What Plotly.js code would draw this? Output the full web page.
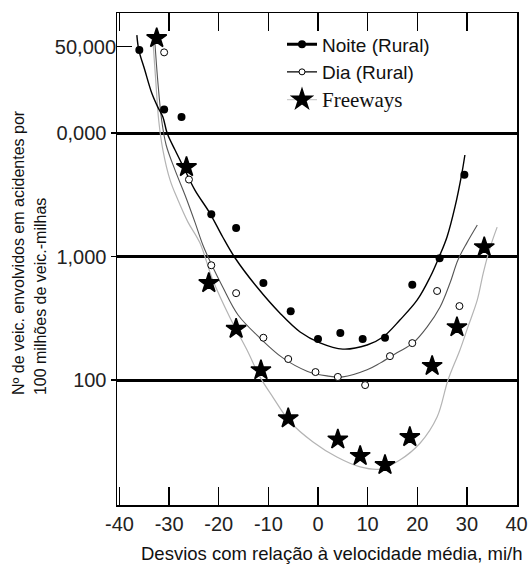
<!DOCTYPE html>
<html>
<head>
<meta charset="utf-8">
<script src="https://cdn.plot.ly/plotly-3.0.1.min.js"></script>
<style>html,body{margin:0;padding:0;background:#fff;}#chart{width:528px;height:566px;}</style>
</head>
<body>
<div id="chart"></div>
<script>
// ---- data ----
const noiteX = [-36, -31, -27.5, -21.5, -16.5, -11, -5.5, 0, 4.5, 9, 13.5, 19, 24.5, 29.5];
const noiteY = [47000, 15500, 13500, 2200, 1700, 610, 360, 215, 240, 215, 220, 590, 970, 4600];

const diaX = [-31, -26, -21.5, -16.5, -11, -6, -0.5, 4, 9.5, 14.5, 19, 24, 28.5];
const diaY = [45000, 4200, 850, 505, 220, 148, 116, 106, 91, 156, 199, 526, 397];

const fwyX = [-32.5, -26.5, -22, -16.5, -11.5, -6, 4, 8.5, 13.5, 18.5, 23, 28, 33.5];
const fwyY = [58700, 5300, 610, 260, 120, 49, 33, 24.3, 20.5, 34.5, 130, 268, 1190];

// fitted curves
const noiteCurveX = [-36.5, -36.1, -34.9, -33.5, -32.3, -31.25, -30.4, -28.8, -26.8, -24.8, -21.8, -19.2, -16.7, -12.3, -7.7, -3.6, 0.4, 5.0, 9.9, 13.1, 16.5, 20.0, 22.6, 24.4, 26.0, 27.6, 29.0, 29.6];
const noiteCurveY = [62100, 47000, 32400, 21100, 16300, 13500, 10000, 7280, 5010, 3450, 2250, 1440, 973, 566, 349, 245, 200, 178, 192, 223, 306, 445, 682, 991, 1440, 2520, 4740, 6640];

const diaCurveX = [-32.9, -32.3, -31.5, -30.6, -28.8, -26.8, -24.8, -23.2, -21.4, -19.2, -16.1, -11.7, -7.1, -2.2, 1.8, 5.0, 9.9, 12.5, 15.9, 19.2, 22.0, 24.6, 26.6, 28.2, 30.0, 32.1];
const diaCurveY = [56600, 26900, 12700, 8000, 5010, 3150, 1900, 1240, 853, 566, 336, 219, 151, 118, 108, 106, 121, 137, 166, 200, 269, 390, 610, 938, 1290, 1800];

const fwyCurveX = [-33.3, -32.7, -32.1, -31.25, -29.8, -28.2, -26.2, -23.8, -21.2, -17.7, -14.3, -11.7, -9.1, -5.6, -1.0, 3.8, 8.5, 12.5, 16.5, 20.6, 24.0, 26.2, 28.6, 30.2, 32.1, 33.3, 34.7, 36.1];
const fwyCurveY = [58700, 26900, 12700, 7280, 4160, 2860, 1900, 1290, 646, 318, 175, 106, 72.8, 45.7, 31.5, 23.8, 19.8, 19.0, 22.5, 30.9, 50.1, 100, 175, 268, 445, 735, 1190, 1730];

const xTickVals = [-40, -30, -20, -10, 0, 10, 20, 30, 40];
const xTickText = ['-40', '-30', '-20', '-10', '0', '10', '20', '30', '40'];
const yTickVals = [100, 1000, 10000];
const yTickText = ['100', '1,000', '0,000'];
const yTopTickVals = [50000];
const yTopTickText = ['50,000'];

const seriesNames = ['Noite (Rural)', 'Dia (Rural)', 'Freeways'];
const xTitle = 'Desvios com relação à velocidade média, mi/h';
const yTitleLines = ['Nº de veic. envolvidos em acidentes por', '100 milhões de veic.-milhas'];

// ---- styling ----
const SANS = 'Liberation Sans, Arial, sans-serif';
const SERIF = 'Liberation Serif, Times New Roman, serif';
const yRange = [0.988, 4.972];

const traces = [
  {x: fwyCurveX, y: fwyCurveY, mode: 'lines', line: {color: '#b4b4b4', width: 1.2, shape: 'spline', smoothing: 1}, showlegend: false, hoverinfo: 'skip'},
  {x: diaCurveX, y: diaCurveY, mode: 'lines', line: {color: '#555555', width: 1.1, shape: 'spline', smoothing: 1}, showlegend: false, hoverinfo: 'skip'},
  {x: noiteCurveX, y: noiteCurveY, mode: 'lines', line: {color: '#000000', width: 1.4, shape: 'spline', smoothing: 1}, showlegend: false, hoverinfo: 'skip'},
  {x: noiteX, y: noiteY, mode: 'markers', marker: {symbol: 'circle', size: 8, color: '#000'}, showlegend: false},
  {x: diaX, y: diaY, mode: 'markers', marker: {symbol: 'circle', size: 7, color: '#fff', line: {color: '#000', width: 1}}, showlegend: false},
  {x: fwyX, y: fwyY, mode: 'markers', marker: {symbol: 'star', size: 15, color: '#000', line: {color: '#000', width: 1.5}}, showlegend: false},
  // legend entries
  {x: [null], y: [null], yaxis: 'y2', mode: 'lines+markers', name: seriesNames[0], line: {color: '#000', width: 3}, marker: {symbol: 'circle', size: 8, color: '#000'}},
  {x: [null], y: [null], yaxis: 'y2', mode: 'lines+markers', name: seriesNames[1], line: {color: '#000', width: 1.2}, marker: {symbol: 'circle', size: 6, color: '#fff', line: {color: '#000', width: 1}}},
  {x: [null], y: [null], yaxis: 'y2', mode: 'lines+markers', name: '<span style="font-family:' + SERIF + ';font-size:21px">' + seriesNames[2] + '</span>', line: {color: '#cccccc', width: 1.2}, marker: {symbol: 'star', size: 15, color: '#000', line: {color: '#000', width: 1.5}}}
];

const layout = {
  width: 528, height: 566,
  margin: {l: 117, r: 11, t: 13, b: 61},
  paper_bgcolor: '#fff', plot_bgcolor: '#fff',
  showlegend: true,
  legend: {x: 0.4125, y: 0.975, xanchor: 'left', yanchor: 'top', bgcolor: 'rgba(0,0,0,0)', borderwidth: 0,
           font: {family: SANS, size: 19, color: '#111'}, tracegroupgap: 0},
  xaxis: {range: [-40.5, 40.1], tickvals: xTickVals, ticktext: xTickText, ticks: 'inside', ticklen: 18, tickwidth: 1.5, tickcolor: '#000',
          mirror: 'ticks', showline: true, linecolor: '#000', linewidth: 1.5, showgrid: false, zeroline: false,
          tickfont: {family: SANS, size: 20, color: '#222'}},
  yaxis: {type: 'log', range: yRange, tickvals: yTickVals, ticktext: yTickText, ticks: 'outside', ticklen: 5, tickwidth: 1.5,
          tickcolor: '#000', showgrid: true, gridcolor: '#000', gridwidth: 3, showline: true, mirror: true,
          linecolor: '#000', linewidth: 1.5, zeroline: false, tickfont: {family: SANS, size: 20, color: '#222'}},
  yaxis2: {type: 'log', range: yRange, overlaying: 'y', side: 'left', anchor: 'x', tickvals: yTopTickVals, ticktext: yTopTickText,
           ticks: 'inside', ticklen: 15, tickwidth: 1.5, tickcolor: '#000', showgrid: false, showline: false, zeroline: false,
           tickfont: {family: SANS, size: 20, color: '#222'}},
  annotations: [
    {text: xTitle, xref: 'paper', yref: 'paper', x: 0.535, y: -0.098, xanchor: 'center', yanchor: 'middle', showarrow: false,
     font: {family: SANS, size: 18.5, color: '#111'}},
    {text: yTitleLines[0], xref: 'paper', yref: 'paper', x: -0.246, y: 0.2195, xanchor: 'center', yanchor: 'bottom', textangle: -90, showarrow: false,
     font: {family: SANS, size: 16, color: '#111'}},
    {text: yTitleLines[1], xref: 'paper', yref: 'paper', x: -0.191, y: 0.2195, xanchor: 'center', yanchor: 'bottom', textangle: -90, showarrow: false,
     font: {family: SANS, size: 16, color: '#111'}}
  ]
};

Plotly.newPlot('chart', traces, layout, {staticPlot: true, displayModeBar: false});
</script>
</body>
</html>
